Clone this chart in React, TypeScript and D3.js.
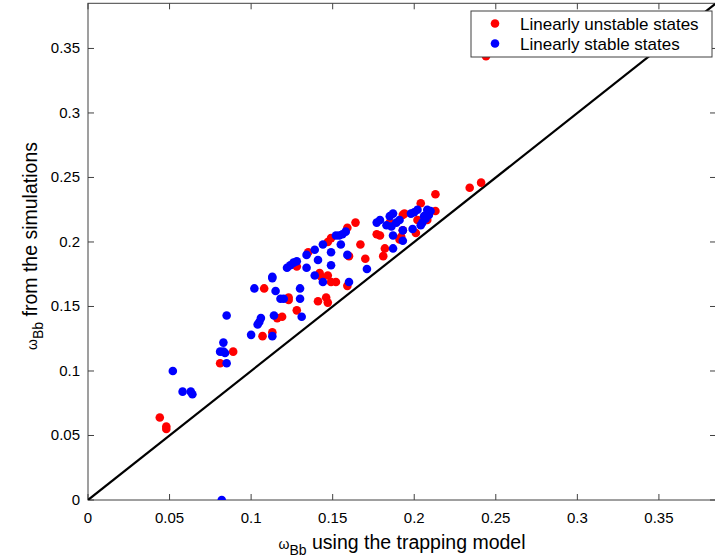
import React from "react";
import * as d3 from "d3";

// ---- data ----
const unstableX = [0.044,0.048,0.048,0.081,0.089,0.107,0.113,0.116,0.108,0.164,0.159,0.149,0.147,0.167,0.135,0.160,0.128,0.142,0.143,0.147,0.149,0.152,0.159,0.123,0.123,0.141,0.146,0.147,0.128,0.119,0.204,0.194,0.202,0.201,0.193,0.185,0.177,0.179,0.191,0.192,0.182,0.181,0.170,0.244,0.234,0.241,0.213,0.213,0.208,0.193];
const unstableY = [0.064,0.057,0.055,0.106,0.115,0.127,0.130,0.141,0.164,0.215,0.211,0.203,0.200,0.198,0.192,0.189,0.181,0.176,0.173,0.174,0.169,0.169,0.166,0.157,0.155,0.154,0.157,0.153,0.147,0.142,0.230,0.222,0.217,0.207,0.221,0.215,0.206,0.205,0.202,0.204,0.195,0.189,0.187,0.344,0.242,0.246,0.237,0.224,0.217,0.209];

const stableX = [0.082,0.052,0.058,0.063,0.064,0.081,0.085,0.083,0.084,0.083,0.085,0.100,0.113,0.104,0.105,0.106,0.114,0.102,0.113,0.113,0.115,0.118,0.158,0.156,0.154,0.152,0.144,0.155,0.139,0.134,0.149,0.159,0.141,0.128,0.126,0.124,0.122,0.134,0.149,0.139,0.144,0.160,0.120,0.130,0.130,0.131,0.208,0.202,0.200,0.198,0.209,0.207,0.205,0.204,0.199,0.187,0.185,0.191,0.189,0.177,0.179,0.183,0.186,0.187,0.193,0.193,0.187,0.171,0.210,0.208,0.206];
const stableY = [0.000,0.100,0.084,0.084,0.082,0.115,0.106,0.115,0.114,0.122,0.143,0.128,0.127,0.136,0.138,0.141,0.143,0.164,0.173,0.172,0.162,0.156,0.208,0.206,0.205,0.205,0.198,0.198,0.194,0.190,0.192,0.190,0.186,0.185,0.184,0.182,0.180,0.180,0.182,0.174,0.169,0.169,0.156,0.164,0.156,0.142,0.225,0.225,0.223,0.222,0.221,0.218,0.215,0.213,0.210,0.222,0.220,0.217,0.215,0.215,0.217,0.213,0.212,0.205,0.209,0.201,0.195,0.179,0.224,0.222,0.220];

const refLine = [0, 0.385];
const tickValues = [0, 0.05, 0.1, 0.15, 0.2, 0.25, 0.3, 0.35];
const tickLabels = ["0", "0.05", "0.1", "0.15", "0.2", "0.25", "0.3", "0.35"];
const legendLabels = ["Linearly unstable states", "Linearly stable states"];
const seriesColors = ["#ff0000", "#0000ff"];

const W = 715, H = 560;
const L = 88, R = 716, T = 3.3, B = 500;
const FONT = "'Liberation Sans', Arial, Helvetica, sans-serif";
const AX = "#404040";

export default function App() {
  const x = d3.scaleLinear().domain([0, 0.385]).range([L, R]);
  const y = d3.scaleLinear().domain([0, 0.385]).range([B, T]);
  const line = d3.line<number>().x((d) => x(d)).y((d) => y(d));
  const red = unstableX.map((v, i) => [v, unstableY[i]]);
  const blue = stableX.map((v, i) => [v, stableY[i]]);
  const tl = 6;
  const rr = 4.3;
  return (
    <svg width={W} height={H} style={{ position: "absolute", left: 0, top: 0, background: "#fff" }} fontFamily={FONT}>
      <defs>
        <clipPath id="plot">
          <rect x={L} y={T} width={R - L} height={B - T} />
        </clipPath>
      </defs>
      <rect x={0} y={0} width={W} height={H} fill="#fff" />
      {/* box */}
      <rect x={L} y={T} width={R - L} height={B - T} fill="none" stroke={AX} strokeWidth={1} />
      {/* ticks */}
      {tickValues.map((t, i) => (
        <g key={"t" + i} stroke={AX} strokeWidth={1}>
          <line x1={x(t)} x2={x(t)} y1={B} y2={B - tl} />
          <line x1={x(t)} x2={x(t)} y1={T} y2={T + tl} />
          <line x1={L} x2={L + tl} y1={y(t)} y2={y(t)} />
          <line x1={R} x2={R - tl} y1={y(t)} y2={y(t)} />
        </g>
      ))}
      {/* tick labels */}
      {tickValues.map((t, i) => (
        <text key={"xl" + i} x={x(t)} y={523} fontSize={15} textAnchor="middle" fill="#000">
          {tickLabels[i]}
        </text>
      ))}
      {tickValues.map((t, i) => (
        <text key={"yl" + i} x={80} y={y(t) + 5} fontSize={15} textAnchor="end" fill="#000">
          {tickLabels[i]}
        </text>
      ))}
      {/* reference line y = x */}
      <g clipPath="url(#plot)">
        <path d={line(refLine) || ""} stroke="#000" strokeWidth={2.2} fill="none" />
        {red.map((p, i) => (
          <circle key={"r" + i} cx={x(p[0])} cy={y(p[1])} r={rr} fill={seriesColors[0]} />
        ))}
        {blue.map((p, i) => (
          <circle key={"b" + i} cx={x(p[0])} cy={y(p[1])} r={rr} fill={seriesColors[1]} />
        ))}
      </g>
      {/* axis titles */}
      <text x={(L + R) / 2} y={549} textAnchor="middle" fontSize={19.5} fill="#000">
        <tspan fontSize={14}>ω</tspan>
        <tspan fontSize={14} dy={6}>Bb</tspan>
        <tspan dy={-6}> using the trapping model</tspan>
      </text>
      <text transform={`translate(37, 246) rotate(-90)`} textAnchor="middle" fontSize={19.5} fill="#000">
        <tspan fontSize={14}>ω</tspan>
        <tspan fontSize={14} dy={6}>Bb</tspan>
        <tspan dy={-6}> from the simulations</tspan>
      </text>
      {/* legend */}
      <rect x={471} y={11} width={241} height={46} fill="#fff" stroke={AX} strokeWidth={1} />
      {legendLabels.map((lab, i) => (
        <g key={"lg" + i}>
          <circle cx={495} cy={23.5 + i * 20} r={rr} fill={seriesColors[i]} />
          <text x={520} y={29.5 + i * 20} fontSize={17} fill="#000">
            {lab}
          </text>
        </g>
      ))}
    </svg>
  );
}
